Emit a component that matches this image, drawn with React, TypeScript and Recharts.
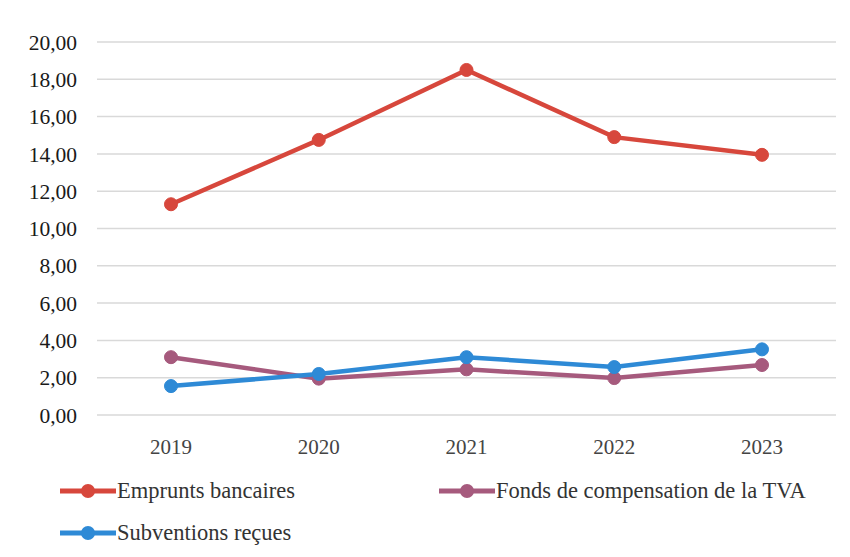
import { LineChart, Line, XAxis, YAxis, CartesianGrid } from 'recharts';

const years = ['2019', '2020', '2021', '2022', '2023'];
const emprunts = [11.3, 14.75, 18.5, 14.9, 13.95];
const fonds = [3.1, 1.95, 2.45, 1.98, 2.68];
const subventions = [1.55, 2.2, 3.1, 2.57, 3.52];
const yTicks = [0, 2, 4, 6, 8, 10, 12, 14, 16, 18, 20];

const series = [
  { key: 'emprunts', name: 'Emprunts bancaires', color: '#d7473c' },
  { key: 'fonds', name: 'Fonds de compensation de la TVA', color: '#a65a7d' },
  { key: 'subventions', name: 'Subventions reçues', color: '#2e8ad6' },
];

const data = years.map((year, i) => ({
  year,
  emprunts: emprunts[i],
  fonds: fonds[i],
  subventions: subventions[i],
}));

const FONT = "'Liberation Serif', Tinos, 'DejaVu Serif', serif";

// legend slots: [left, top]
const legendPos = [
  [60, 478],
  [439, 478],
  [60, 520],
];

export default function App() {
  return (
    <div style={{ position: 'relative', width: 850, height: 557, background: '#fff' }}>
      <style>{'body{margin:0;background:#fff}'}</style>
      <LineChart width={850} height={557} data={data} margin={{ top: 42, right: 14, bottom: 112, left: 10 }}>
        <CartesianGrid vertical={false} stroke="#d9d9d9" strokeWidth={1.5} />
        <XAxis
          dataKey="year"
          axisLine={false}
          tickLine={false}
          padding={{ left: 74, right: 74 }}
          tickMargin={18}
          tick={{ fontFamily: FONT, fontSize: 21, fill: '#444' }}
        />
        <YAxis
          width={87}
          domain={[0, 20]}
          ticks={yTicks}
          interval={0}
          axisLine={false}
          tickLine={false}
          tickSize={0}
          tickMargin={20}
          tickFormatter={(v: number) => v.toFixed(2).replace('.', ',')}
          tick={{ fontFamily: FONT, fontSize: 21.5, fill: '#1a1a1a' }}
        />
        {series.map((s) => (
          <Line
            key={s.key}
            dataKey={s.key}
            name={s.name}
            stroke={s.color}
            strokeWidth={4.5}
            dot={{ r: 6.5, fill: s.color, stroke: s.color, strokeWidth: 1 }}
            activeDot={false}
            isAnimationActive={false}
          />
        ))}
      </LineChart>
      {series.map((s, i) => (
        <div
          key={s.key}
          style={{
            position: 'absolute',
            left: legendPos[i][0],
            top: legendPos[i][1],
            display: 'flex',
            alignItems: 'center',
            fontFamily: FONT,
            fontSize: 22.5,
            color: '#333',
            whiteSpace: 'nowrap',
          }}
        >
          <svg width={56} height={18} style={{ marginRight: 1 }}>
            <line x1={0} y1={9} x2={56} y2={9} stroke={s.color} strokeWidth={5} />
            <circle cx={28} cy={9} r={7} fill={s.color} />
          </svg>
          {s.name}
        </div>
      ))}
    </div>
  );
}
